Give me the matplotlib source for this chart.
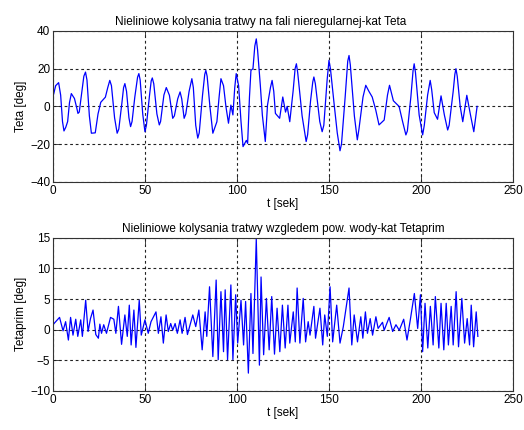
import matplotlib
matplotlib.use("Agg")
import matplotlib.pyplot as plt

t_teta = [0, 1.5, 3.1, 4.2, 5.2, 6.0, 7.0, 8.0, 9.0, 10.0, 11.7, 13.0, 13.6,
          14.3, 15.5, 16.8, 17.7, 18.5, 19.8, 20.9, 23.0, 24.5, 26.0, 28.5,
          29.8, 30.9, 31.8, 33.5, 34.9, 35.8, 37.5, 38.4, 39.1, 40.0, 41.3,
          42.2, 43.0, 44.5, 46.0, 46.7, 47.4, 48.8, 50.0, 50.8, 52.5, 53.4,
          54.0, 54.8, 56.5, 57.8, 58.5, 60.3, 61.6, 63.3, 65.1, 66.0, 67.8,
          69.1, 70.0, 71.3, 72.2, 74.0, 75.5, 76.3, 77.6, 78.7, 79.5, 81.3,
          82.5, 83.1, 83.8, 85.3, 86.9, 89.1, 90.3, 91.3, 92.7, 94.0, 95.4,
          96.7, 97.8, 98.8, 99.6, 100.9, 102.2, 103.3, 105.1, 105.8, 106.8,
          107.6, 108.7, 109.7, 110.5, 111.2, 112.7, 113.8, 115.4, 116.6,
          118.2, 119.1, 120.0, 120.9, 123.2, 124.9, 126.4, 127.3, 128.7,
          130.5, 131.6, 132.3, 133.0, 135.4, 137.6, 138.4, 140.0, 141.2,
          141.8, 142.6, 145.0, 146.3, 147.2, 149.0, 150.0, 150.8, 152.7,
          154.5, 156.0, 156.8, 158.8, 160.2, 160.9, 161.6, 163.8, 165.4,
          166.3, 168.5, 170.0, 171.7, 173.5, 175.4, 177.2, 180.0, 181.8,
          182.9, 185.0, 188.1, 190.0, 191.8, 192.6, 194.5, 195.7, 196.3,
          197.0, 199.0, 200.9, 201.8, 203.6, 205.0, 205.8, 207.2, 209.0,
          210.9, 212.7, 214.5, 215.3, 217.5, 218.4, 219.0, 219.7, 221.3,
          222.7, 224.9, 226.9, 228.7, 230.5]
teta = [5, 11, 12.6, 6, -8, -13, -11, -8, 2, 6.8, 4.2, -1, -3.7,
        -3, 6, 16, 18.2, 14, -5, -14.2, -14, -4, 2.2, 4.9,
        10, 13.8, 11, -6, -14.2, -12, 2, 10, 12.1, 8, -6,
        -10.7, -8, 5, 15.5, 17.4, 14, -4, -13.4, -10, 6, 13.5,
        15.1, 12, -4, -9.8, -8, 6, 10, 5.9, -6.3, -5, 4,
        7.7, 4, -6.3, -4, 8, 14.7, 10, -10, -16.8, -14, 6,
        17, 19.1, 16, 0, -14.2, -8.1, 5, 14.7, 11, 0, -8.9,
        0.7, -4.5, 10, 17.4, 11, -8, -21.3, -18, -19.6, 5,
        19.1, 20, 32, 35.8, 30, 11.2, -4.6, -18.6, 0.7,
        10, 13.8, 8, -3.7, -6.3, 5, -3, 0, -8.1,
        8, 20, 22.6, 18, -5, -18.6, -15, 3, 13,
        15.6, 12, -8, -13.4, -10, 14, 24.4, 20, 2.2,
        -14, -23.5, -20, 5, 24, 27, 22, -5, -17.7,
        -12, 5, 11.2, 8, 5, -1.8, -9.8, -7.2, 6,
        11.2, 3, 0, -8, -15.1, -13, 5, 19, 22.6,
        18, -4.5, -15.1, -10, 6, 13.8, 9, -3.3, -6.8,
        5.6, -4.5, -12.5, -10, 8, 17, 20, 16, 0,
        -8.1, 5.9, -4.5, -13.4, 0]

# Kat Tetaprim wzgledem powierzchni wody
t_prim = [0, 3.6, 5.5, 6.9, 8.4, 9.6, 10.9, 12.4, 13.5, 15.1, 16.0, 17.8,
          19.1, 20.4, 21.8, 23.3, 24.7, 25.5, 26.4, 27.6, 29.1, 31.3, 33.1,
          34.2, 35.6, 37.3, 39.1, 40.4, 41.5, 42.5, 44.0, 45.1, 46.9, 48.0,
          50.0, 51.8, 53.3, 56.0, 57.3, 58.7, 60.0, 61.5, 62.7, 64.0, 65.1,
          66.4, 67.6, 69.1, 70.2, 71.8, 73.1, 76.0, 77.6, 79.3, 81.1, 82.7,
          83.6, 85.1, 86.9, 88.7, 89.8, 91.3, 92.7, 93.6, 94.9, 96.7, 97.8,
          99.3, 100.4, 102.2, 103.6, 104.7, 106.2, 107.6, 108.7, 110.5,
          112.2, 113.1, 114.5, 116.0, 117.5, 118.9, 120.4, 121.8, 123.3,
          124.7, 126.2, 127.7, 128.7, 130.6, 131.7, 132.7, 134.2, 136.0,
          137.3, 138.7, 139.7, 141.8, 142.7, 145.1, 146.6, 147.7, 149.1,
          150.6, 152.0, 154.2, 156.0, 157.8, 160.9, 162.4, 163.7, 165.5,
          167.3, 168.4, 169.8, 170.9, 172.4, 173.7, 175.5, 176.7, 179.1,
          180.0, 182.7, 184.6, 186.4, 188.2, 190.6, 192.4, 194.2, 196.4,
          198.2, 199.7, 200.9, 202.2, 203.7, 205.1, 206.6, 207.8, 209.7,
          210.9, 212.4, 213.7, 214.9, 216.4, 217.5, 219.1, 220.4, 222.2,
          223.7, 225.1, 226.4, 227.3, 228.6, 230.0, 230.9]
teta_prim = [0.8, 2.0, -0.2, 1.3, -1.7, 2.0, -0.9, 1.7, -1.1, 1.6, -1.1, 4.8,
             -0.3, 1.8, 3.2, -0.8, -1.4, 0.9, -0.6, 0.8, -0.6, 2.0, 1.7,
             -0.6, 3.8, -2.4, 2.4, -1.1, 4.0, -2.5, 3.2, -2.9, 4.8, -0.9,
             1.6, -0.6, 1.3, 2.9, -0.6, 2.1, -2.2, 2.4, -0.3, 1.0, -0.1,
             1.0, -0.6, 1.6, -0.6, 2.0, -0.8, 2.4, 0.5, 3.2, -3.3, 2.9,
             -1.1, 7.0, -4.4, 8.1, -4.9, 6.2, -3.6, 6.5, -4.9, 7.3, -4.9,
             5.7, -2.2, 4.8, -2.5, 4.6, -7.1, 5.9, -3.9, 14.8,
             -5.8, 8.6, -4.1, 5.1, -3.3, 5.4, -4.0, 3.5, -3.6,
             4.0, -3.0, 4.0, -2.2, 2.9, -2.0, 6.8, -2.2, 5.1,
             -2.0, 1.3, -0.9, 3.8, -1.4, 3.5, -2.5, 2.4, -1.1,
             7.0, -2.0, 4.0, -2.2, 0.5, 6.8, -2.5, 2.4, -2.0,
             2.1, -1.4, 2.9, -0.6, 1.8, -0.9, 2.1, 0.2, 1.2,
             -0.1, 2.0, -0.3, 0.8, -0.1, 1.7, -1.7, 1.6, 5.9,
             0.2, 5.7, -3.6, 4.3, -3.0, 3.8, -2.5, 5.4, -3.0,
             4.3, -3.3, 4.3, -2.5, 3.8, -2.5, 6.2, -2.8, 5.1,
             -2.2, 1.8, -2.5, 4.0, -2.8, 2.9, -1.1]

x_ticks = [0, 50, 100, 150, 200, 250]

plt.rcParams["font.family"] = ["Liberation Sans", "DejaVu Sans"]
plt.rcParams["font.size"] = 8.5

fig = plt.figure(figsize=(5.24, 4.30), dpi=100)
ax1 = fig.add_axes([0.101, 0.577, 0.878, 0.351])
ax2 = fig.add_axes([0.101, 0.091, 0.878, 0.356])

panele = [
    (ax1, t_teta, teta, (-40, 40), [-40, -20, 0, 20, 40],
     "Nieliniowe kolysania tratwy na fali nieregularnej-kat Teta",
     "Teta [deg]", 0.452),
    (ax2, t_prim, teta_prim, (-10, 15), [-10, -5, 0, 5, 10, 15],
     "Nieliniowe kolysania tratwy wzgledem pow. wody-kat Tetaprim",
     "Tetaprim [deg]", 0.5),
]

for ax, t, y, ylim, yticks, tytul, opis_y, x_tyt in panele:
    ax.plot(t, y, color="#0000ff", linewidth=0.9)
    ax.set_xlim(0, 250)
    ax.set_ylim(*ylim)
    ax.set_xticks(x_ticks)
    ax.set_yticks(yticks)
    ax.set_title(tytul, fontsize=8.5, pad=4, x=x_tyt)
    ax.set_xlabel("t [sek]", labelpad=1)
    ax.set_ylabel(opis_y, labelpad=2)
    ax.grid(True, color="#222222", linestyle=(0, (2.5, 2.5)), linewidth=0.8)
    ax.tick_params(direction="in", top=True, right=True, length=4,
                   width=0.6, pad=2, colors="#222222", labelcolor="black")
    for s in ax.spines.values():
        s.set_linewidth(0.8)
        s.set_color("#333333")

fig.savefig("out.png", dpi=100)
